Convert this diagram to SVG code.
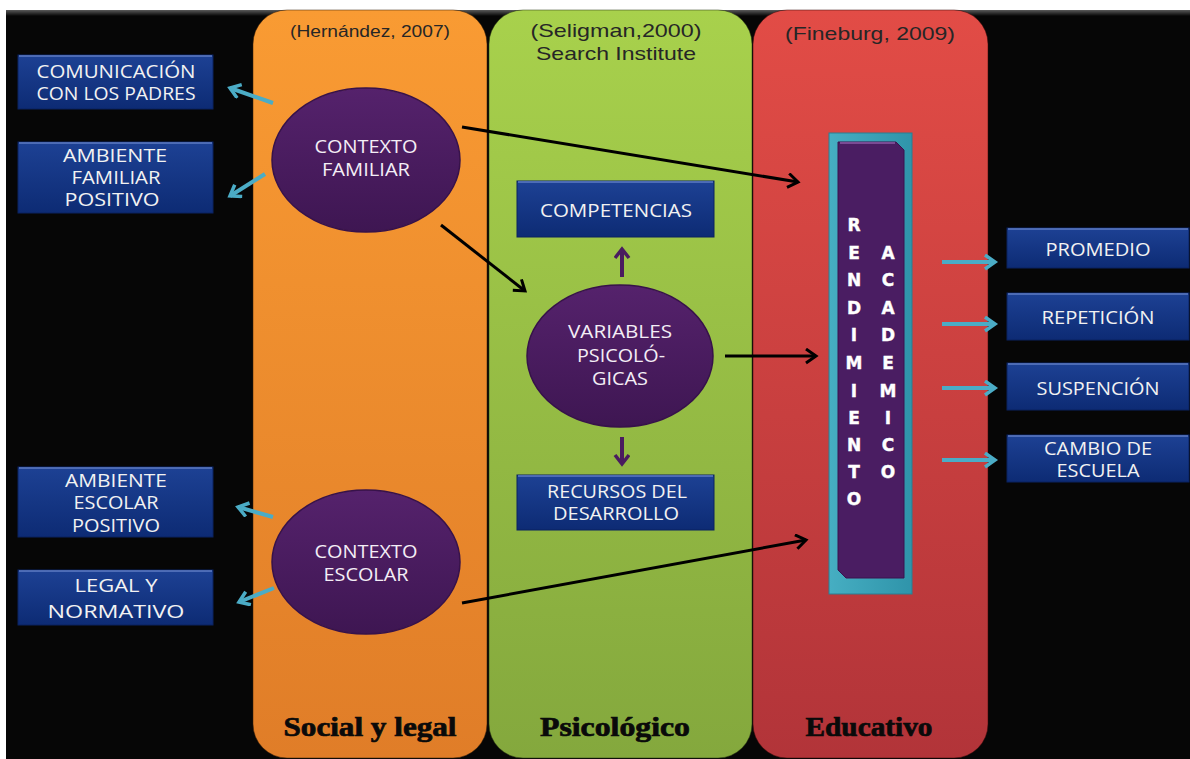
<svg xmlns="http://www.w3.org/2000/svg" width="1190" height="759" viewBox="0 0 1190 759">
<defs>
<style>
.hdr{font-family:"Liberation Sans",Arial,sans-serif;fill:#262626;text-anchor:middle}
.foot{font-family:"Liberation Serif","Times New Roman",serif;font-weight:bold;fill:#0a0a0a;stroke:#0a0a0a;stroke-width:0.7;text-anchor:middle;font-size:27px}
.bt{font-family:"Open Sans","Liberation Sans",sans-serif;fill:#f2f2f2;text-anchor:middle;font-size:18px}
.et{font-family:"Open Sans","Liberation Sans",sans-serif;fill:#f4eef6;text-anchor:middle;font-size:18px}
.rl{font-family:"DejaVu Sans","Liberation Sans",Arial,sans-serif;font-weight:bold;fill:#ffffff;stroke:#ffffff;stroke-width:0.4;text-anchor:middle;font-size:17px}
.box{fill:url(#gBlue);stroke:#0a2260;stroke-width:1}
.boxhi{stroke:#5a78c0;stroke-width:2;opacity:0.8}
.ell{fill:url(#gPurple);stroke:#37124a;stroke-width:1.5}
.blk{stroke:#000;stroke-width:3;fill:none;marker-end:url(#mBlk)}
.teal{stroke:#4bacc6;stroke-width:4;fill:none;marker-end:url(#mTeal)}
.pur{stroke:#4a1c5f;stroke-width:4;fill:none;marker-end:url(#mPur)}
</style>
<linearGradient id="gTop" x1="0" y1="0" x2="0" y2="1"><stop offset="0" stop-color="#5a5a5a"/><stop offset="1" stop-color="#060606"/></linearGradient>
<linearGradient id="gOr" x1="0" y1="0" x2="0" y2="1"><stop offset="0" stop-color="#f99b33"/><stop offset="1" stop-color="#e07d28"/></linearGradient>
<linearGradient id="gGr" x1="0" y1="0" x2="0" y2="1"><stop offset="0" stop-color="#a8d14c"/><stop offset="1" stop-color="#84a83d"/></linearGradient>
<linearGradient id="gRd" x1="0" y1="0" x2="0" y2="1"><stop offset="0" stop-color="#e24c46"/><stop offset="1" stop-color="#b23439"/></linearGradient>
<linearGradient id="gBlue" x1="0" y1="0" x2="0" y2="1"><stop offset="0" stop-color="#1d4194"/><stop offset="1" stop-color="#0d2b74"/></linearGradient>
<linearGradient id="gPurple" x1="0" y1="0" x2="0" y2="1"><stop offset="0" stop-color="#55226c"/><stop offset="1" stop-color="#3e1652"/></linearGradient>
<linearGradient id="gTeal" x1="0" y1="0" x2="1" y2="0"><stop offset="0" stop-color="#46aec2"/><stop offset="1" stop-color="#2f94aa"/></linearGradient>
<marker id="mBlk" markerUnits="userSpaceOnUse" markerWidth="20" markerHeight="20" refX="12" refY="8" orient="auto"><path d="M2,1 L12,8 L2,15" fill="none" stroke="#000" stroke-width="3"/></marker>
<marker id="mTeal" markerUnits="userSpaceOnUse" markerWidth="20" markerHeight="20" refX="12" refY="8" orient="auto"><path d="M2,1 L12,8 L2,15" fill="none" stroke="#4bacc6" stroke-width="3.5"/></marker>
<marker id="mPur" markerUnits="userSpaceOnUse" markerWidth="20" markerHeight="20" refX="12" refY="8" orient="auto"><path d="M3,1 L12,8 L3,15" fill="none" stroke="#4a1c5f" stroke-width="3.5"/></marker>
</defs>

<rect x="0" y="0" width="1190" height="759" fill="#ffffff"/>
<rect x="6" y="10" width="1184" height="749" fill="#060606"/>
<rect x="6" y="10" width="1184" height="6" fill="url(#gTop)"/>

<g id="columns">
<rect x="253" y="10" width="234" height="748" rx="34" fill="url(#gOr)" stroke="#3a2008" stroke-opacity="0.5"/>
<rect x="489" y="10" width="263" height="748" rx="34" fill="url(#gGr)" stroke="#2a3a10" stroke-opacity="0.5"/>
<rect x="753" y="10" width="235" height="748" rx="34" fill="url(#gRd)" stroke="#3a0a0a" stroke-opacity="0.5"/>
<text class="hdr" x="370" y="37" font-size="16" textLength="160" lengthAdjust="spacingAndGlyphs">(Hernández, 2007)</text>
<text class="hdr" x="616" y="37" font-size="19" textLength="171" lengthAdjust="spacingAndGlyphs">(Seligman,2000)</text>
<text class="hdr" x="616" y="60" font-size="19" textLength="160" lengthAdjust="spacingAndGlyphs">Search Institute</text>
<text class="hdr" x="870" y="40" font-size="19" textLength="170" lengthAdjust="spacingAndGlyphs">(Fineburg, 2009)</text>
<text class="foot" x="370" y="736" textLength="173" lengthAdjust="spacingAndGlyphs">Social y legal</text>
<text class="foot" x="615" y="736" textLength="150" lengthAdjust="spacingAndGlyphs">Psicológico</text>
<text class="foot" x="869" y="736" textLength="127" lengthAdjust="spacingAndGlyphs">Educativo</text>
</g>

<g id="connectors">
<line class="blk" x1="462" y1="127" x2="798" y2="182"/>
<line class="blk" x1="441" y1="225" x2="525" y2="291"/>
<line class="blk" x1="725" y1="356" x2="816" y2="356"/>
<line class="blk" x1="462" y1="603" x2="806" y2="540"/>
<line class="teal" x1="273" y1="103" x2="230" y2="88"/>
<line class="teal" x1="265" y1="174" x2="230" y2="196"/>
<line class="teal" x1="273" y1="517" x2="238" y2="507"/>
<line class="teal" x1="274" y1="588" x2="239" y2="602"/>
<line class="teal" x1="942" y1="262" x2="995" y2="262"/>
<line class="teal" x1="942" y1="324" x2="995" y2="324"/>
<line class="teal" x1="942" y1="388" x2="995" y2="388"/>
<line class="teal" x1="942" y1="460" x2="995" y2="460"/>
<line class="pur" x1="622" y1="277" x2="622" y2="249"/>
<line class="pur" x1="622" y1="437" x2="622" y2="464"/>
</g>

<g id="n-comunicacion">
<rect class="box" x="18" y="55" width="195" height="54"/>
<line class="boxhi" x1="19" y1="56" x2="212" y2="56"/>
<text class="bt" x="116" y="78" textLength="159" lengthAdjust="spacingAndGlyphs">COMUNICACIÓN</text>
<text class="bt" x="116" y="100" textLength="159" lengthAdjust="spacingAndGlyphs">CON LOS PADRES</text>
</g>
<g id="n-ambiente-familiar">
<rect class="box" x="18" y="142" width="195" height="71"/>
<line class="boxhi" x1="19" y1="143" x2="212" y2="143"/>
<text class="bt" x="115" y="162" textLength="104" lengthAdjust="spacingAndGlyphs">AMBIENTE</text>
<text class="bt" x="116" y="184" textLength="89" lengthAdjust="spacingAndGlyphs">FAMILIAR</text>
<text class="bt" x="112" y="206" textLength="95" lengthAdjust="spacingAndGlyphs">POSITIVO</text>
</g>
<g id="n-ambiente-escolar">
<rect class="box" x="18" y="467" width="195" height="70"/>
<line class="boxhi" x1="19" y1="468" x2="212" y2="468"/>
<text class="bt" x="116" y="487" textLength="102" lengthAdjust="spacingAndGlyphs">AMBIENTE</text>
<text class="bt" x="116" y="509" textLength="85" lengthAdjust="spacingAndGlyphs">ESCOLAR</text>
<text class="bt" x="116" y="532" textLength="88" lengthAdjust="spacingAndGlyphs">POSITIVO</text>
</g>
<g id="n-legal">
<rect class="box" x="18" y="570" width="195" height="55"/>
<line class="boxhi" x1="19" y1="571" x2="212" y2="571"/>
<text class="bt" x="116" y="592" font-size="21" textLength="83" lengthAdjust="spacingAndGlyphs">LEGAL Y</text>
<text class="bt" x="116" y="618" font-size="21" textLength="137" lengthAdjust="spacingAndGlyphs">NORMATIVO</text>
</g>

<g id="n-contexto-familiar">
<ellipse class="ell" cx="366" cy="160" rx="94" ry="72"/>
<text class="et" x="366" y="153" textLength="103" lengthAdjust="spacingAndGlyphs">CONTEXTO</text>
<text class="et" x="366" y="176" textLength="88" lengthAdjust="spacingAndGlyphs">FAMILIAR</text>
</g>
<g id="n-contexto-escolar">
<ellipse class="ell" cx="366" cy="562" rx="94" ry="72"/>
<text class="et" x="366" y="558" textLength="103" lengthAdjust="spacingAndGlyphs">CONTEXTO</text>
<text class="et" x="366" y="581" textLength="85" lengthAdjust="spacingAndGlyphs">ESCOLAR</text>
</g>
<g id="n-variables">
<ellipse class="ell" cx="620" cy="356" rx="93" ry="71"/>
<text class="et" x="620" y="338" textLength="104" lengthAdjust="spacingAndGlyphs">VARIABLES</text>
<text class="et" x="621" y="362" textLength="88" lengthAdjust="spacingAndGlyphs">PSICOLÓ-</text>
<text class="et" x="620" y="385" textLength="56" lengthAdjust="spacingAndGlyphs">GICAS</text>
</g>

<g id="n-competencias">
<rect class="box" x="517" y="181" width="197" height="56"/>
<line class="boxhi" x1="518" y1="182" x2="713" y2="182"/>
<text class="bt" x="616" y="217" textLength="152" lengthAdjust="spacingAndGlyphs">COMPETENCIAS</text>
</g>
<g id="n-recursos">
<rect class="box" x="517" y="475" width="197" height="55"/>
<line class="boxhi" x1="518" y1="476" x2="713" y2="476"/>
<text class="bt" x="617" y="498" textLength="140" lengthAdjust="spacingAndGlyphs">RECURSOS DEL</text>
<text class="bt" x="616" y="520" textLength="126" lengthAdjust="spacingAndGlyphs">DESARROLLO</text>
</g>

<g id="n-rendimiento">
<rect x="829" y="133" width="83" height="461" fill="url(#gTeal)" stroke="#2a7f92" stroke-width="1"/>
<path d="M838,142 L896,142 L904,150 L904,578 L846,578 L838,570 Z" fill="#4a1d62" stroke="#3a124e" stroke-width="1"/>
<line x1="840" y1="143" x2="895" y2="143" stroke="#7a4a94" stroke-width="2"/>
<text class="rl" x="854" y="231">R</text>
<text class="rl" x="854" y="259">E</text>
<text class="rl" x="854" y="286">N</text>
<text class="rl" x="854" y="314">D</text>
<text class="rl" x="854" y="341">I</text>
<text class="rl" x="854" y="369">M</text>
<text class="rl" x="854" y="397">I</text>
<text class="rl" x="854" y="424">E</text>
<text class="rl" x="854" y="451">N</text>
<text class="rl" x="854" y="478">T</text>
<text class="rl" x="854" y="505">O</text>
<text class="rl" x="888" y="259">A</text>
<text class="rl" x="888" y="286">C</text>
<text class="rl" x="888" y="314">A</text>
<text class="rl" x="888" y="341">D</text>
<text class="rl" x="888" y="369">E</text>
<text class="rl" x="888" y="397">M</text>
<text class="rl" x="888" y="424">I</text>
<text class="rl" x="888" y="451">C</text>
<text class="rl" x="888" y="478">O</text>
</g>

<g id="n-promedio">
<rect class="box" x="1007" y="228" width="182" height="40"/>
<line class="boxhi" x1="1008" y1="229" x2="1188" y2="229"/>
<text class="bt" x="1098" y="256" textLength="105" lengthAdjust="spacingAndGlyphs">PROMEDIO</text>
</g>
<g id="n-repeticion">
<rect class="box" x="1007" y="293" width="182" height="47"/>
<line class="boxhi" x1="1008" y1="294" x2="1188" y2="294"/>
<text class="bt" x="1098" y="324" textLength="113" lengthAdjust="spacingAndGlyphs">REPETICIÓN</text>
</g>
<g id="n-suspencion">
<rect class="box" x="1007" y="363" width="182" height="47"/>
<line class="boxhi" x1="1008" y1="364" x2="1188" y2="364"/>
<text class="bt" x="1098" y="395" textLength="123" lengthAdjust="spacingAndGlyphs">SUSPENCIÓN</text>
</g>
<g id="n-cambio">
<rect class="box" x="1007" y="435" width="182" height="47"/>
<line class="boxhi" x1="1008" y1="436" x2="1188" y2="436"/>
<text class="bt" x="1098" y="455" textLength="108" lengthAdjust="spacingAndGlyphs">CAMBIO DE</text>
<text class="bt" x="1098" y="477" textLength="83" lengthAdjust="spacingAndGlyphs">ESCUELA</text>
</g>
</svg>
